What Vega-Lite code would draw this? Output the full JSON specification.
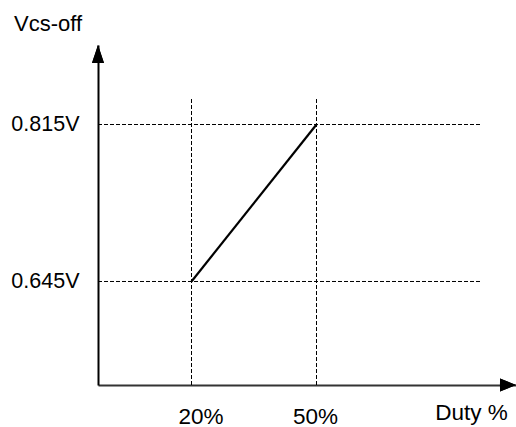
{
  "$schema": "https://vega.github.io/schema/vega-lite/v6.json",
  "width": 418,
  "height": 340,
  "autosize": "none",
  "padding": {"left": 98, "top": 45, "right": 0, "bottom": 42},
  "background": "white",
  "config": {"view": {"stroke": null}, "font": "Liberation Sans"},
  "data": {"values": [{"duty": 20, "v": 0.645}, {"duty": 50, "v": 0.815}]},
  "layer": [
    {
      "mark": {"type": "line", "stroke": "#000", "strokeWidth": 2.2},
      "encoding": {
        "y": {
          "field": "v", "type": "quantitative",
          "scale": {"domain": [0.5329, 0.9011], "nice": false, "zero": false},
          "axis": {
            "title": "Vcs-off", "values": [0.645, 0.815],
            "labelExpr": "format(datum.value, '.3f') + 'V'",
            "ticks": false, "tickSize": 0, "grid": false,
            "domainColor": "#000", "domainWidth": 2,
            "labelFont": "Liberation Sans", "labelFontSize": 21.5, "labelColor": "#000",
            "labelPadding": 19, "labelOverlap": false, "labelFlush": false,
            "titleFont": "Liberation Sans", "titleFontSize": 22, "titleFontWeight": "normal",
            "titleColor": "#000", "titleAngle": 0, "titleAlign": "center",
            "titleBaseline": "alphabetic", "titleX": -50.5, "titleY": -15
          }
        },
        "x": {
          "field": "duty", "type": "quantitative",
          "scale": {"domain": [-2.44, 97.88], "nice": false, "zero": false},
          "axis": {
            "title": "Duty %", "values": [20, 50],
            "labelExpr": "datum.value + '%'",
            "ticks": false, "tickSize": 0, "grid": false,
            "domainColor": "#333", "domainWidth": 2,
            "labelFont": "Liberation Sans", "labelFontSize": 22.5, "labelColor": "#000",
            "labelBaseline": "alphabetic", "labelPadding": 38,
            "labelOffset": {"condition": {"test": "datum.value == 20", "value": 9}, "value": -1.5},
            "labelOverlap": false, "labelFlush": false,
            "titleFont": "Liberation Sans", "titleFontSize": 22.5, "titleFontWeight": "normal",
            "titleColor": "#000", "titleAlign": "center", "titleBaseline": "alphabetic",
            "titleX": 373, "titleY": 34
          }
        }
      }
    },
    {
      "mark": {"type": "rule", "stroke": "#000", "strokeWidth": 1, "strokeDash": [4, 2]},
      "encoding": {
        "y": {"field": "v", "type": "quantitative", "title": "Vcs-off", "scale": {"domain": [0.5329, 0.9011], "nice": false, "zero": false}},
        "x": {"datum": -2.44, "type": "quantitative", "title": "Duty %", "scale": {"domain": [-2.44, 97.88], "nice": false, "zero": false}},
        "x2": {"datum": 89.24}
      }
    },
    {
      "mark": {"type": "rule", "stroke": "#000", "strokeWidth": 1, "strokeDash": [4, 2]},
      "encoding": {
        "x": {"field": "duty", "type": "quantitative", "title": "Duty %", "scale": {"domain": [-2.44, 97.88], "nice": false, "zero": false}},
        "y": {"datum": 0.5329, "type": "quantitative", "title": "Vcs-off", "scale": {"domain": [0.5329, 0.9011], "nice": false, "zero": false}},
        "y2": {"datum": 0.8437}
      }
    },
    {
      "mark": {"type": "point", "filled": true, "color": "#000", "opacity": 1, "strokeWidth": 0, "size": 324, "shape": "M0,0L-0.667,2L0.667,2Z"},
      "encoding": {
        "x": {"datum": -2.44, "type": "quantitative", "title": "Duty %", "scale": {"domain": [-2.44, 97.88], "nice": false, "zero": false}},
        "y": {"datum": 0.9011, "type": "quantitative", "title": "Vcs-off", "scale": {"domain": [0.5329, 0.9011], "nice": false, "zero": false}}
      }
    },
    {
      "mark": {"type": "point", "filled": true, "color": "#000", "opacity": 1, "strokeWidth": 0, "size": 324, "shape": "M0,0L-1.78,-0.72L-1.78,0.72Z"},
      "encoding": {
        "x": {"datum": 97.88, "type": "quantitative", "title": "Duty %", "scale": {"domain": [-2.44, 97.88], "nice": false, "zero": false}},
        "y": {"datum": 0.5329, "type": "quantitative", "title": "Vcs-off", "scale": {"domain": [0.5329, 0.9011], "nice": false, "zero": false}}
      }
    }
  ]
}
